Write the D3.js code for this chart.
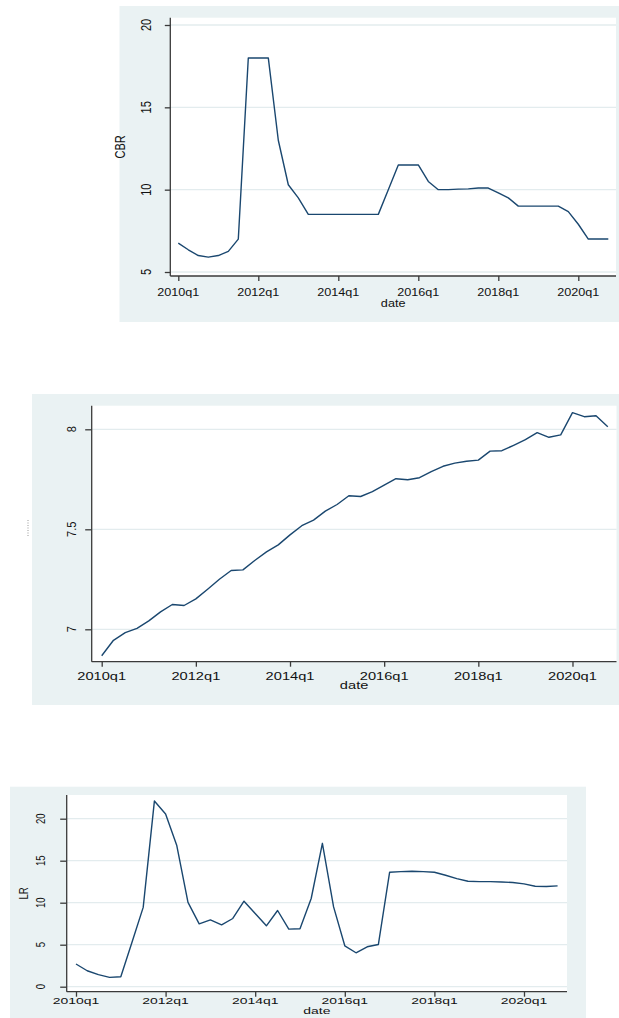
<!DOCTYPE html>
<html>
<head>
<meta charset="utf-8">
<script src="https://cdn.jsdelivr.net/npm/d3@7"></script>
<style>
  html, body { margin: 0; padding: 0; background: #ffffff; }
  svg { display: block; }
  text { font-family: "Liberation Sans", Arial, sans-serif; fill: #111; }
</style>
</head>
<body>
<svg id="chart" width="619" height="1018"></svg>
<script>
// Quarterly series, 2010q1 .. 2020q4 (44 quarters)
const startYear = 2010;
const nQuarters = 44;

const dateTickIndex = [0, 8, 16, 24, 32, 40];
const dateTickLabels = ["2010q1", "2012q1", "2014q1", "2016q1", "2018q1", "2020q1"];

// Central bank rate
const cbr = [6.75, 6.35, 6.0, 5.9, 6.0, 6.25, 7.0, 18, 18, 18,
             13.0, 10.3, 9.5, 8.5, 8.5, 8.5, 8.5, 8.5, 8.5, 8.5,
             8.5, 10.0, 11.5, 11.5, 11.5, 10.5, 10.0, 10.0, 10.03, 10.05,
             10.1, 10.1, 9.8, 9.5, 9.0, 9.0, 9.0, 9.0, 9.0, 8.67,
             7.9, 7.0, 7.0, 7.0];
const cbrTicks = [5, 10, 15, 20];

// Log-level series
const logSeries = [6.868, 6.945, 6.983, 7.005, 7.042, 7.087, 7.124, 7.119, 7.152, 7.200,
                   7.250, 7.294, 7.297, 7.344, 7.387, 7.422, 7.472, 7.518, 7.546, 7.591,
                   7.624, 7.668, 7.664, 7.688, 7.721, 7.753, 7.748, 7.758, 7.788, 7.815,
                   7.831, 7.840, 7.846, 7.891, 7.893, 7.920, 7.948, 7.983, 7.960, 7.972,
                   8.083, 8.063, 8.068, 8.013];
const logTicks = [7, 7.5, 8];

// Lending rate
const lr = [2.7, 1.9, 1.43, 1.11, 1.19, 5.3, 9.44, 22.1, 20.56, 16.8,
            10.04, 7.48, 7.96, 7.37, 8.12, 10.18, 8.71, 7.25, 9.07, 6.85,
            6.89, 10.5, 17.07, 9.5, 4.87, 4.04, 4.75, 5.03, 13.62, 13.7,
            13.74, 13.7, 13.62, 13.27, 12.87, 12.55, 12.51, 12.51, 12.47, 12.4,
            12.24, 11.96, 11.92, 12.0];
const lrTicks = [0, 5, 10, 15, 20];

const svg = d3.select("#chart");
const BG = "#EAF2F3";
const LINE = "#1A476F";

// Text drawn with a horizontal stretch (sx) around its anchor point
function stretchedText(g, x, y, str, size, sx, rotate) {
  return g.append("text")
    .attr("transform", `translate(${x},${y}) scale(${sx},1)` + (rotate ? " rotate(-90)" : ""))
    .attr("text-anchor", "middle")
    .attr("dominant-baseline", "central")
    .style("font-size", size + "px")
    .text(str);
}

function drawPanel(cfg, values, ticks) {
  const g = svg.append("g");

  // outer graph region
  g.append("rect")
    .attr("x", cfg.bg[0]).attr("y", cfg.bg[1])
    .attr("width", cfg.bg[2] - cfg.bg[0]).attr("height", cfg.bg[3] - cfg.bg[1])
    .attr("fill", BG);

  // plot region
  g.append("rect")
    .attr("x", cfg.plot[0]).attr("y", cfg.plot[1])
    .attr("width", cfg.plot[2] - cfg.plot[0]).attr("height", cfg.plot[3] - cfg.plot[1])
    .attr("fill", "#ffffff");

  const x = d3.scaleLinear().domain(cfg.xDomain).range([cfg.plot[0], cfg.plot[2]]);
  const y = d3.scaleLinear().domain(cfg.yDomain).range([cfg.plot[3], cfg.plot[1]]);

  // horizontal grid lines
  g.selectAll(".grid").data(ticks).enter().append("line")
    .attr("x1", cfg.plot[0]).attr("x2", cfg.plot[2])
    .attr("y1", d => y(d)).attr("y2", d => y(d))
    .attr("stroke", "#E3ECEE").attr("stroke-width", 1.3);

  // y axis
  const yAxis = d3.axisLeft(y).tickValues(ticks).tickSize(cfg.yTickLen).tickFormat("");
  const ya = g.append("g").attr("transform", `translate(${cfg.plot[0]},0)`).call(yAxis);
  ya.select(".domain").attr("d", `M0,${cfg.plot[3]}V${cfg.plot[1]}`);

  // x axis
  const xAxis = d3.axisBottom(x).tickValues(dateTickIndex).tickSize(cfg.xTickLen).tickFormat("");
  const xa = g.append("g").attr("transform", `translate(0,${cfg.plot[3]})`).call(xAxis);
  xa.select(".domain").attr("d", `M${cfg.plot[0]},0H${cfg.plot[2]}`);

  g.selectAll(".domain, .tick line").attr("stroke", "#3a3a3a").attr("stroke-width", 1.3);

  // y tick labels (rotated)
  ticks.forEach(t => {
    stretchedText(g, cfg.yLabelX, y(t), String(t), cfg.yFont, cfg.ySx, true);
  });

  // x tick labels
  dateTickIndex.forEach((q, i) => {
    stretchedText(g, x(q), cfg.xLabelY, dateTickLabels[i], cfg.xFont, cfg.xSx, false);
  });

  // axis titles
  stretchedText(g, (cfg.plot[0] + cfg.plot[2]) / 2, cfg.dateY, "date", cfg.xFont, cfg.xSx, false);
  if (cfg.yTitle) {
    stretchedText(g, cfg.yTitleX, (cfg.plot[1] + cfg.plot[3]) / 2, cfg.yTitle, cfg.yFont, cfg.ySx, true);
  }

  // series line
  const line = d3.line().x((d, i) => x(i)).y(d => y(d));
  g.append("path")
    .datum(values)
    .attr("d", line)
    .attr("fill", "none")
    .attr("stroke", LINE)
    .attr("stroke-width", 1.4)
    .attr("stroke-linejoin", "round");

  return g;
}

// Panel 1: CBR
drawPanel({
  bg: [119.5, 6, 619, 322],
  plot: [170.3, 17.7, 616, 276],
  xDomain: [-0.8, 43.77],
  yDomain: [5 - 4 / 16.47, 20 + 7.3 / 16.47],
  yTickLen: 5.5, xTickLen: 5,
  yLabelX: 145.5, xLabelY: 292, dateY: 303,
  yFont: 11, ySx: 1.35, xFont: 10.8, xSx: 1.17,
  yTitle: "CBR", yTitleX: 119.5
}, cbr, cbrTicks);

// Panel 2: log level
const p2 = drawPanel({
  bg: [32, 394, 619, 705],
  plot: [91.7, 405.7, 616.5, 661.7],
  xDomain: [-0.85, 43.74],
  yDomain: [7 - 32.4 / 200, 8 + 23.6 / 200],
  yTickLen: 6.5, xTickLen: 5,
  yLabelX: 71.7, xLabelY: 676, dateY: 685,
  yFont: 11, ySx: 1.1, xFont: 11, xSx: 1.33,
  yTitle: null
}, logSeries, logTicks);

// unreadable squeezed y-axis title of panel 2
p2.append("line")
  .attr("x1", 28).attr("x2", 28).attr("y1", 520).attr("y2", 537)
  .attr("stroke", "#999").attr("stroke-width", 1).attr("stroke-dasharray", "1,1.5");

// Panel 3: LR
drawPanel({
  bg: [10, 786.7, 586, 1018],
  plot: [66.7, 795, 567, 991.7],
  xDomain: [-0.83, 43.84],
  yDomain: [-5 / 8.4, 191.7 / 8.4],
  yTickLen: 6.5, xTickLen: 5,
  yLabelX: 40.7, xLabelY: 1001, dateY: 1011,
  yFont: 9.6, ySx: 1.3, xFont: 9.3, xSx: 1.5,
  yTitle: "LR", yTitleX: 24
}, lr, lrTicks);
</script>
</body>
</html>
